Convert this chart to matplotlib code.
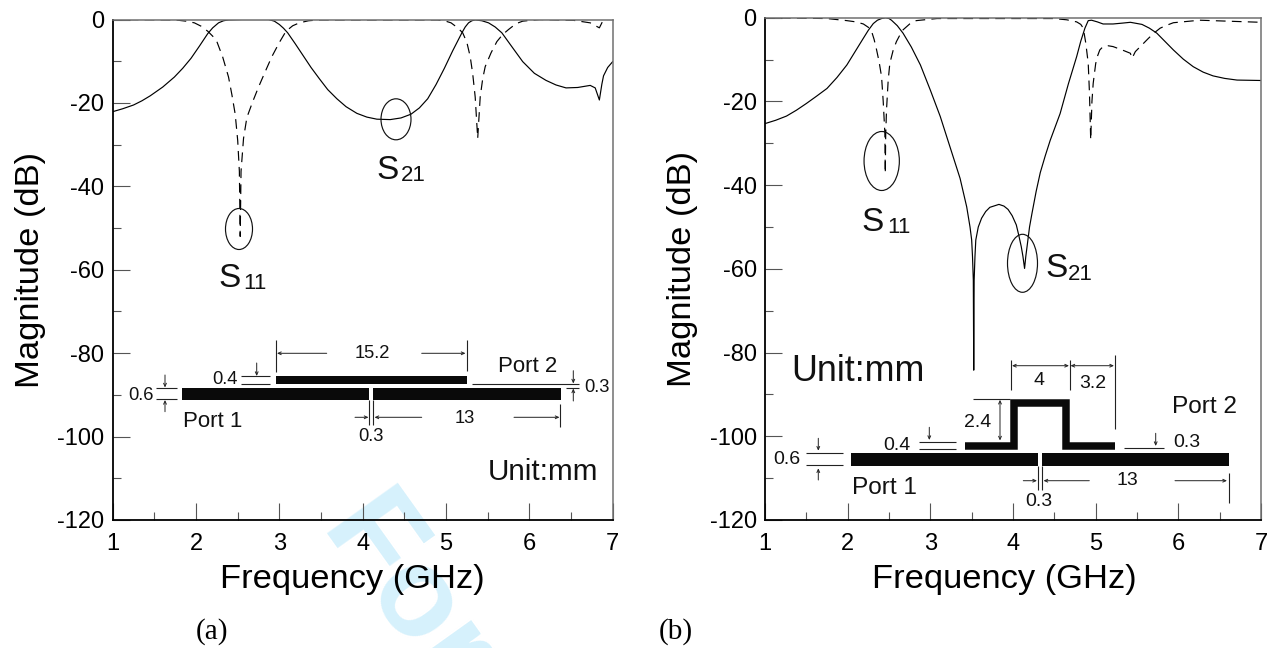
import matplotlib
matplotlib.use("Agg")
import matplotlib.pyplot as plt
from matplotlib.patches import Ellipse, Rectangle

plt.rcParams['font.family'] = ['Liberation Sans', 'DejaVu Sans']
plt.rcParams['axes.unicode_minus'] = False
plt.rcParams['lines.scale_dashes'] = False

# values: frequency in GHz, magnitude in dB
a_s21_f = [1, 1.12, 1.25, 1.35, 1.45, 1.6, 1.74, 1.84, 1.94, 2.04, 2.14, 2.2, 2.27, 2.33, 2.39, 2.55, 2.87, 2.94,
           3.0, 3.05, 3.1, 3.19, 3.28, 3.38, 3.48, 3.58, 3.69, 3.8, 3.93, 4.05, 4.17, 4.33, 4.46, 4.58, 4.68,
           4.78, 4.88, 4.98, 5.08, 5.19, 5.23, 5.27, 5.31, 5.35, 5.43, 5.51, 5.59, 5.67, 5.8, 5.92, 6.06, 6.2,
           6.32, 6.44, 6.58, 6.73, 6.79, 6.84, 6.87, 6.89, 6.94, 7]
a_s21_db = [-22.1, -21.4, -20.5, -19.5, -18.3, -16.2, -13.8, -11.7, -9.3, -6.4, -3.4, -2, -0.8, -0.3, -0.1, 0, 0, -0.4,
            -1.2, -2.1, -3.2, -5.8, -8.5, -11.5, -14.2, -16.8, -19, -20.9, -22.5, -23.4, -23.9, -24, -23.6, -22.7,
            -21.2, -19, -15.6, -11.7, -7.5, -3.2, -1.8, -0.8, -0.3, -0.1, -0.3, -0.8, -1.8, -3.2, -6.8, -10.1,
            -12.9, -14.6, -15.7, -16.4, -16.3, -15.8, -16.4, -19.3, -15.5, -13.5, -11.5, -10.1]
a_s11_f = [1, 1.75, 1.88, 1.98, 2.06, 2.14, 2.2, 2.25, 2.32, 2.39, 2.43, 2.47, 2.5, 2.52, 2.53, 2.54, 2.57, 2.61,
           2.68, 2.75, 2.83, 2.91, 3.0, 3.08, 3.16, 3.24, 3.35, 3.48, 4.9, 4.98, 5.06, 5.14, 5.2, 5.25, 5.29,
           5.32, 5.35, 5.38, 5.41, 5.44, 5.47, 5.54, 5.61, 5.68, 5.75, 5.84, 5.92, 6.12, 6.53, 6.73, 6.84, 6.89, 7]
a_s11_db = [0, -0.1, -0.4, -0.8, -1.6, -2.8, -4, -5.3, -9, -13.8, -18, -22.7, -29, -36.4, -52, -36.4, -28.5, -23.5,
            -19.7, -16.2, -12.5, -8.9, -5.5, -2.8, -1.5, -0.8, -0.3, -0.1, -0.1, -0.3, -0.8, -2, -3.2, -5.5, -8.9,
            -13, -18.6, -28.5, -18.6, -14.2, -11.3, -8, -5.3, -3.6, -2.4, -1, -0.4, 0, -0.2, -0.8, -2, 0, 0]

b_s21_f = [1, 1.13, 1.26, 1.38, 1.5, 1.62, 1.75, 1.87, 1.99, 2.09, 2.19, 2.25, 2.31, 2.36, 2.41, 2.46, 2.5, 2.53,
           2.6, 2.67, 2.77, 2.88, 3.0, 3.12, 3.24, 3.36, 3.44, 3.48, 3.5, 3.51, 3.52, 3.525, 3.53, 3.54, 3.55,
           3.58, 3.62, 3.67, 3.72, 3.83, 3.89, 3.94, 3.99, 4.04, 4.07, 4.1, 4.12, 4.14, 4.155, 4.17, 4.2, 4.23,
           4.28, 4.33, 4.39, 4.45, 4.57, 4.67, 4.77, 4.82, 4.87, 4.91, 4.95, 5.02, 5.09, 5.21, 5.32, 5.42, 5.56,
           5.65, 5.74, 5.84, 5.94, 6.06, 6.18, 6.3, 6.42, 6.56, 6.71, 7]
b_s21_db = [-25.3, -24.5, -23.5, -22.1, -20.5, -18.8, -16.9, -14.3, -11.3, -8.1, -4.9, -3, -1.4, -0.6, -0.2, 0, -0.2,
            -0.6, -1.9, -3.7, -7, -11.3, -17.3, -23.6, -31, -38.4, -45.2, -50, -53.1, -57, -62.7, -84.2, -62.7,
            -57, -53.1, -50, -47.9, -46.3, -45.3, -44.6, -45, -45.8, -47.3, -49.5, -52, -54.7, -57, -59.9, -57,
            -54.7, -50, -46.7, -41.5, -37, -33, -29.3, -22.9, -15.8, -9.3, -5.6, -2.5, -0.7, -0.6, -1, -1.5, -1.5,
            -1.3, -1.1, -1.6, -2.5, -3.7, -5.7, -7.7, -9.9, -11.7, -13, -13.9, -14.5, -14.9, -15]
b_s11_f = [1, 1.75, 1.99, 2.1, 2.19, 2.25, 2.29, 2.32, 2.35, 2.38, 2.41, 2.43, 2.45, 2.455, 2.46, 2.47, 2.49, 2.51,
           2.55, 2.59, 2.63, 2.67, 2.75, 2.83, 3.08, 4.49, 4.65, 4.77, 4.82, 4.85, 4.88, 4.91, 4.925, 4.94, 4.955,
           4.97, 5, 5.02, 5.05, 5.09, 5.15, 5.21, 5.32, 5.42, 5.44, 5.48, 5.56, 5.64, 5.71, 5.78, 5.86, 5.94,
           6.26, 7]
b_s11_db = [0, -0.2, -0.7, -1, -1.5, -2.3, -3.3, -5.2, -7.7, -10.5, -14.1, -20, -27.6, -37.2, -28, -22, -15, -10.9,
            -7.8, -5.7, -4.2, -2.9, -1.5, -0.7, -0.2, -0.2, -0.5, -1, -1.6, -2.5, -6, -10.9, -18, -29.2, -20,
            -15.7, -11, -9.3, -7.7, -6.9, -6.7, -6.9, -7.7, -8.5, -9.7, -8.1, -6.5, -4.9, -3.6, -2.5, -1.8, -1.2,
            -0.6, -1.1]

x_ticks = [1, 2, 3, 4, 5, 6, 7]
y_ticks = [0, -20, -40, -60, -80, -100, -120]

W, H = 1270, 648


def setup_axes(fig, left, top, right, bottom, xlabel_at):
    ax = fig.add_axes([left / W, 1 - bottom / H, (right - left) / W, (bottom - top) / H])
    ax.patch.set_visible(False)
    ax.set_xlim(1, 7)
    ax.set_ylim(-120, 0)
    ax.set_xticks(x_ticks)
    ax.set_yticks(y_ticks)
    ax.set_xticks([1.5, 2.5, 3.5, 4.5, 5.5, 6.5], minor=True)
    ax.set_yticks([-10, -30, -50, -70, -90, -110], minor=True)
    ax.tick_params(axis='x', which='major', direction='in', length=12.2, width=0.8, color='#555555',
                   labelsize=17, pad=9)
    ax.tick_params(axis='y', which='major', direction='in', length=12.2, width=0.8, color='#555555',
                   labelsize=17, pad=6)
    ax.tick_params(which='minor', direction='in', length=5.8, width=0.8, color='#555555')
    for side in ['left', 'bottom']:
        ax.spines[side].set_linewidth(1.3)
        ax.spines[side].set_color('black')
    for side in ['top', 'right']:
        ax.spines[side].set_linewidth(1.1)
        ax.spines[side].set_color('#707070')
    ax.set_xlabel('Frequency (GHz)', fontsize=24.8, labelpad=7)
    ax.xaxis.label.set_x(xlabel_at)
    ax.set_ylabel('Magnitude (dB)', fontsize=24.8, labelpad=8)
    return ax


def plot_curves(ax, s21_f, s21_db, s11_f, s11_db):
    ax.plot(s21_f, s21_db, color='black', lw=0.85, solid_joinstyle='round')
    ax.plot(s11_f, s11_db, color='black', lw=0.85, dashes=(7, 4.5))


def dim_line(ov, x0, y0, x1, y1):
    ov.plot([x0, x1], [y0, y1], color='#222222', lw=0.8, solid_capstyle='butt')


def dim_arrow(ov, x0, y0, x1, y1, style='->'):
    ov.annotate('', xy=(x1, y1), xytext=(x0, y0),
                arrowprops=dict(arrowstyle=style + ',head_length=0.22,head_width=0.1', lw=0.7,
                                color='#222222', shrinkA=0, shrinkB=0))


def dim_text(ov, x, y, s, size=13.2):
    ov.text(x, y, s, fontsize=size, ha='center', va='center', color='#111111')


def s_label(ov, s_left, s_base, sub_left, sub_base, sub):
    ov.text(s_left, s_base, 'S', fontsize=24, ha='left', va='baseline', color='#111111')
    ov.text(sub_left, sub_base, sub, fontsize=16, ha='left', va='baseline', color='#111111')


def bar(ov, x0, y0, x1, y1):
    ov.add_patch(Rectangle((x0, y0), x1 - x0, y1 - y0, facecolor='#0a0a0a', edgecolor='none'))


def draw_inset_a(ov):
    bar(ov, 276, 376, 466.7, 384)
    bar(ov, 182, 388, 369.3, 400)
    bar(ov, 373.3, 388, 561, 400)

    dim_line(ov, 276, 340, 276, 372)
    dim_line(ov, 466.7, 340, 466.7, 371)
    dim_arrow(ov, 326.7, 353.3, 277, 353.3)
    dim_arrow(ov, 421.7, 353.3, 465.5, 353.3)
    dim_text(ov, 372.7, 354, '15.2')

    dim_text(ov, 225, 380, '0.4')
    dim_line(ov, 240.7, 376, 270, 376)
    dim_line(ov, 240.7, 384, 270, 384)
    dim_arrow(ov, 256.7, 363, 256.7, 376)

    dim_text(ov, 141, 396, '0.6')
    dim_line(ov, 156, 388, 177.3, 388)
    dim_line(ov, 156, 399.3, 177.3, 399.3)
    dim_arrow(ov, 165, 375, 165, 387.5)
    dim_arrow(ov, 165, 411.7, 165, 400)

    dim_line(ov, 471.7, 384, 579.3, 384)
    dim_line(ov, 565.7, 388, 579.3, 388)
    dim_arrow(ov, 573.3, 370.7, 573.3, 383.5)
    dim_arrow(ov, 573.3, 401, 573.3, 388.5)
    dim_text(ov, 597, 388, '0.3')

    dim_line(ov, 369.3, 400, 369.3, 425)
    dim_line(ov, 373.3, 400, 373.3, 425)
    dim_arrow(ov, 355, 417.3, 368.5, 417.3)
    dim_arrow(ov, 421.7, 417.3, 374.5, 417.3)
    dim_text(ov, 464.3, 418.3, '13')
    dim_arrow(ov, 514, 417.3, 559.5, 417.3)
    dim_line(ov, 560, 404, 560, 426.7)
    dim_text(ov, 370.7, 436.7, '0.3')

    dim_text(ov, 212.7, 421.7, 'Port 1', 16)
    dim_text(ov, 528, 367, 'Port 2', 16)
    dim_text(ov, 543.3, 472.3, 'Unit:mm', 21.3)


def draw_inset_b(ov):
    bar(ov, 850.7, 453.3, 1038.3, 465.7)
    bar(ov, 1042.3, 453.3, 1229, 465.7)
    ov.plot([965, 1014, 1014, 1065.5, 1065.5, 1115], [445.5, 445.5, 403, 403, 445.5, 445.5],
            color='#0a0a0a', lw=5.4, solid_joinstyle='miter', solid_capstyle='butt')

    dim_line(ov, 1011.3, 360, 1011.3, 390)
    dim_line(ov, 1069.7, 360, 1069.7, 390)
    dim_line(ov, 1115, 355, 1115, 429.3)
    dim_arrow(ov, 1012, 365.7, 1069, 365.7, '<->')
    dim_arrow(ov, 1070.5, 365.7, 1114, 365.7, '<->')
    dim_text(ov, 1039, 380.7, '4', 14)
    dim_text(ov, 1092.7, 383.3, '3.2', 14)

    dim_line(ov, 972.7, 399.3, 1010, 399.3)
    dim_arrow(ov, 1000, 399.8, 1000, 440.5, '<->')
    dim_text(ov, 977.7, 422.7, '2.4', 14)

    dim_text(ov, 896.7, 445, '0.4', 14)
    dim_line(ov, 919, 441.7, 955.7, 441.7)
    dim_line(ov, 919, 449.3, 955.7, 449.3)
    dim_arrow(ov, 929.3, 427.3, 929.3, 440)

    dim_text(ov, 787.3, 459.3, '0.6', 14)
    dim_line(ov, 806, 453.3, 842.7, 453.3)
    dim_line(ov, 806, 465.3, 842.7, 465.3)
    dim_arrow(ov, 818.3, 438.3, 818.3, 450.7)
    dim_arrow(ov, 818.3, 480, 818.3, 468.3)

    dim_line(ov, 1124, 447.7, 1164.3, 447.7)
    dim_arrow(ov, 1155.7, 433.3, 1155.7, 446)
    dim_text(ov, 1187.3, 442.7, '0.3', 14)

    dim_line(ov, 1038.3, 465.7, 1038.3, 490)
    dim_line(ov, 1042.3, 465.7, 1042.3, 490)
    dim_arrow(ov, 1023.3, 480.7, 1037, 480.7)
    dim_arrow(ov, 1089.3, 480.7, 1043.5, 480.7)
    dim_text(ov, 1127.7, 480.7, '13', 14)
    dim_arrow(ov, 1175, 480.7, 1227, 480.7)
    dim_line(ov, 1228.7, 472.7, 1228.7, 503.3)
    dim_text(ov, 1038.7, 501.7, '0.3', 14)

    dim_text(ov, 884.3, 488.3, 'Port 1', 17.6)
    dim_text(ov, 1204, 406.7, 'Port 2', 17.6)
    dim_text(ov, 858.3, 371.7, 'Unit:mm', 25.8)


fig = plt.figure(figsize=(W / 100, H / 100), dpi=100)

# faint review stamp sits under everything, only its start shows in the frame
fig.text(317.5 / W, 1 - 532 / H, 'For', fontsize=91.5, fontweight='bold', color='#d6f1fc',
         rotation=-54.5, rotation_mode='anchor', ha='left', va='baseline', zorder=-5)

ax_a = setup_axes(fig, 112.7, 19.5, 612.7, 520, 0.4786)
ax_b = setup_axes(fig, 765, 17.7, 1261, 520, 0.482)
plot_curves(ax_a, a_s21_f, a_s21_db, a_s11_f, a_s11_db)
plot_curves(ax_b, b_s21_f, b_s21_db, b_s11_f, b_s11_db)

# overlay in pixel coords for the drawn-on notes
ov = fig.add_axes([0, 0, 1, 1])
ov.set_xlim(0, W)
ov.set_ylim(H, 0)
ov.axis('off')
ov.patch.set_visible(False)

for cx, cy, w, h in [(396, 119.3, 30, 41), (239, 229, 27, 41), (881.7, 161, 35.3, 59), (1022.5, 263.3, 30, 58)]:
    ov.add_patch(Ellipse((cx, cy), w, h, facecolor='none', edgecolor='#111111', lw=0.85))

s_label(ov, 376, 179, 401, 181, '21')
s_label(ov, 218, 287, 243, 289, '11')
s_label(ov, 861, 231, 887, 233, '11')
s_label(ov, 1045, 277, 1068, 280, '21')

draw_inset_a(ov)
draw_inset_b(ov)

ov.text(212, 632, '(a)', fontsize=21, family='Liberation Serif', ha='center', va='center')
ov.text(676, 632, '(b)', fontsize=21, family='Liberation Serif', ha='center', va='center')

fig.savefig('out.png', dpi=100)
